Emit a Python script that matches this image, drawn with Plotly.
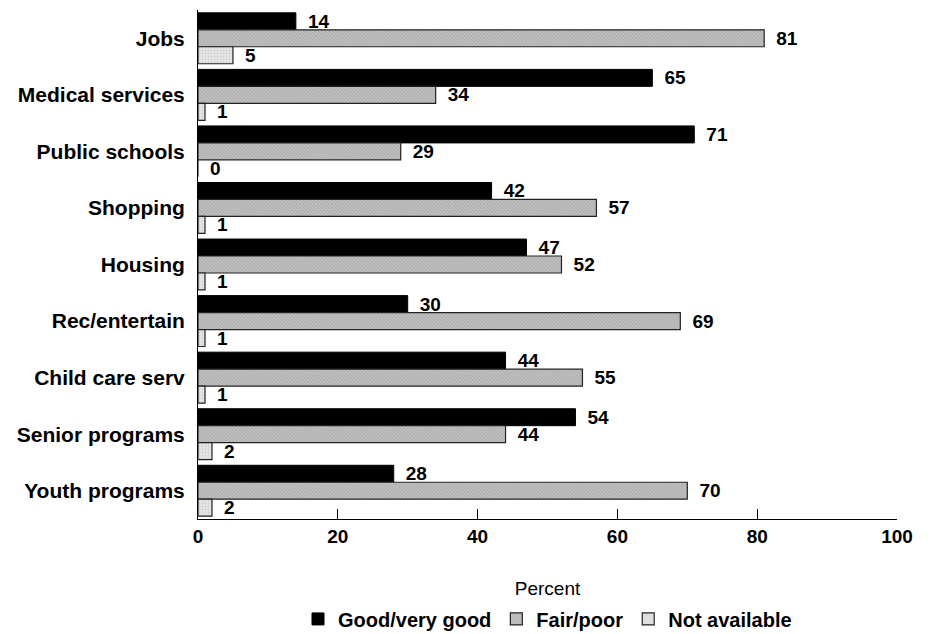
import plotly.graph_objects as go

categories = ["Jobs", "Medical services", "Public schools", "Shopping", "Housing",
              "Rec/entertain", "Child care serv", "Senior programs", "Youth programs"]
good = [14, 65, 71, 42, 47, 30, 44, 54, 28]
fair = [81, 34, 29, 57, 52, 69, 55, 44, 70]
not_avail = [5, 1, 0, 1, 1, 1, 1, 2, 2]
x_ticks = [0, 20, 40, 60, 80, 100]

FONT = "Liberation Sans, Arial, sans-serif"
LABEL_FONT = dict(family=FONT, size=19, color="black", weight="bold")
PAD = "\u00a0\u2009"


def labels(values):
    return [PAD + str(v) for v in values]


fig = go.Figure()
fig.add_trace(go.Bar(
    y=categories, x=good, orientation="h", name="Good/very good",
    marker=dict(color="black", line=dict(color="black", width=1)),
    text=labels(good), textposition="outside", constraintext="none",
    textfont=LABEL_FONT, cliponaxis=False,
))
fig.add_trace(go.Bar(
    y=categories, x=fair, orientation="h", name="Fair/poor",
    marker=dict(color="#c6c6c6", line=dict(color="#222", width=1.2),
                pattern=dict(shape="\\", fgcolor="#8c8c8c", size=2.5, solidity=0.45)),
    text=labels(fair), textposition="outside", constraintext="none",
    textfont=LABEL_FONT, cliponaxis=False,
))
fig.add_trace(go.Bar(
    y=categories, x=not_avail, orientation="h", name="Not available",
    marker=dict(color="#e6e6e6", line=dict(color="#222", width=1.2),
                pattern=dict(shape=".", fgcolor="#b8b8b8", size=3, solidity=0.3)),
    text=labels(not_avail), textposition="outside", constraintext="none",
    textfont=LABEL_FONT, cliponaxis=False,
))

fig.update_layout(
    width=930, height=634,
    barmode="group", bargap=0.1, bargroupgap=0,
    plot_bgcolor="white", paper_bgcolor="white",
    margin=dict(l=190, r=41, t=2, b=123, autoexpand=False),
    font=dict(family=FONT, color="black"),
    xaxis=dict(
        range=[0, 100], tickvals=x_ticks, ticks="inside", ticklen=10,
        tickcolor="black", showline=True, linecolor="black", linewidth=1,
        showgrid=False, zeroline=False, automargin=False,
        tickfont=dict(family=FONT, size=19, color="black", weight="bold"),
        title=dict(text="Percent", font=dict(family=FONT, size=19, color="black"), standoff=35),
    ),
    yaxis=dict(
        autorange="reversed", showline=True, linecolor="black", linewidth=1,
        showgrid=False, ticks="", ticklabelstandoff=8, automargin=False,
        tickfont=dict(family=FONT, size=21, color="black", weight="bold"),
    ),
    legend=dict(
        orientation="h", x=0.5, xanchor="center", y=-0.158, yanchor="top",
        font=dict(family=FONT, size=20, color="black", weight="bold"),
        itemwidth=30, tracegroupgap=0,
    ),
    showlegend=True,
)

fig.write_html("out.html")
